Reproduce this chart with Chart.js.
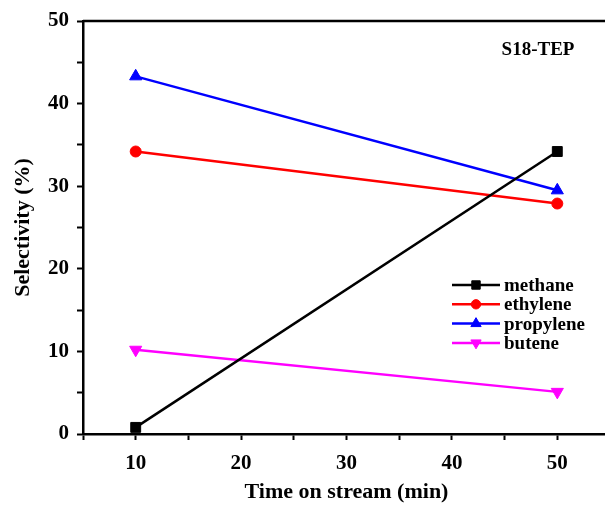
<!DOCTYPE html>
<html>
<head>
<meta charset="utf-8">
<script src="https://cdn.jsdelivr.net/npm/chart.js@4/dist/chart.umd.min.js"></script>
<style>
  html, body { margin: 0; padding: 0; overflow: hidden; background: #fff; }
  #wrap { position: relative; width: 605px; height: 506px; overflow: hidden; }
  #wrap canvas { position: absolute; left: 0; top: 0; }
</style>
</head>
<body>
<div id="wrap"><canvas id="c" width="621" height="506"></canvas></div>
<script>
// Selectivity vs time on stream, sample S18-TEP
const times = [10, 50];
const methane = [0.8, 34.2];
const ethylene = [34.2, 27.9];
const propylene = [43.3, 29.5];
const butene = [10.2, 5.1];
const seriesNames = ["methane", "ethylene", "propylene", "butene"];
const xTicks = [10, 20, 30, 40, 50];
const yTicks = [0, 10, 20, 30, 40, 50];

const FONT = "'Liberation Serif', 'Times New Roman', serif";

function pts(vals) {
  return times.map((t, i) => ({ x: t, y: vals[i] }));
}

function ds(label, vals, color, style, radius, rotation) {
  return {
    label,
    data: pts(vals),
    borderColor: color,
    backgroundColor: color,
    borderWidth: 2.5,
    pointStyle: style,
    pointRadius: radius,
    pointRotation: rotation || 0,
    pointBorderWidth: 1,
    pointBackgroundColor: color,
    pointBorderColor: color,
    tension: 0,
  };
}

// Marco superior/derecho, rotulo de muestra y leyenda con linea + marcador
const framePlugin = {
  id: "frame",
  afterDraw(chart) {
    const { ctx, chartArea: a } = chart;
    ctx.save();
    ctx.strokeStyle = "#000";
    ctx.lineWidth = 2.5;
    ctx.beginPath();
    ctx.moveTo(a.left, a.top);
    ctx.lineTo(a.right, a.top);
    ctx.lineTo(a.right, a.bottom);
    ctx.stroke();

    ctx.fillStyle = "#000";
    ctx.font = "bold 19px " + FONT;
    ctx.textAlign = "center";
    ctx.textBaseline = "middle";
    ctx.fillText("S18-TEP", 538, 50);

    // Leyenda
    ctx.font = "bold 19px " + FONT;
    ctx.textAlign = "left";
    chart.data.datasets.forEach((d, i) => {
      const y = 285 + i * 19.3;
      ctx.strokeStyle = d.borderColor;
      ctx.lineWidth = 2.5;
      ctx.beginPath();
      ctx.moveTo(452, y);
      ctx.lineTo(500, y);
      ctx.stroke();
      ctx.fillStyle = d.borderColor;
      ctx.strokeStyle = d.borderColor;
      ctx.lineWidth = 1;
      Chart.helpers.drawPoint(ctx, {
        pointStyle: d.pointStyle,
        radius: d.pointRadius * 0.85,
        rotation: d.pointRotation,
        borderWidth: 1,
      }, 476, y);
      ctx.fillStyle = "#000";
      ctx.fillText(seriesNames[i], 504, y + 1);
    });
    ctx.restore();
  },
};

new Chart(document.getElementById("c"), {
  type: "line",
  data: {
    datasets: [
      ds("methane", methane, "#000000", "rect", 7),
      ds("ethylene", ethylene, "#ff0000", "circle", 5.5),
      ds("propylene", propylene, "#0000ff", "triangle", 7),
      ds("butene", butene, "#ff00ff", "triangle", 7, 180),
    ],
  },
  options: {
    responsive: false,
    animation: false,
    // el eje derecho queda fuera del encuadre, como en la figura original
    layout: { padding: { top: 21, right: 0, left: 0, bottom: 0 } },
    plugins: { legend: { display: false }, tooltip: { enabled: false } },
    scales: {
      x: {
        type: "linear",
        min: 5,
        max: 55,
        afterFit: (s) => { s.height = 72; },
        border: { display: true, color: "#000", width: 2.5 },
        grid: { drawOnChartArea: false, drawTicks: true, tickLength: 6, tickColor: "#000", tickWidth: 2 },
        ticks: {
          stepSize: 5,
          color: "#000",
          padding: 11,
          maxRotation: 0,
          font: { family: FONT, size: 21, weight: "bold" },
          callback: (v) => (xTicks.includes(v) ? String(v) : ""),
        },
        title: {
          display: true,
          text: "Time on stream (min)",
          color: "#000",
          padding: { top: 0, bottom: 0 },
          font: { family: FONT, size: 22, weight: "bold" },
        },
      },
      y: {
        min: 0,
        max: 50,
        afterFit: (s) => { s.width = 83; },
        border: { display: true, color: "#000", width: 2.5 },
        grid: { drawOnChartArea: false, drawTicks: true, tickLength: 6, tickColor: "#000", tickWidth: 2 },
        ticks: {
          stepSize: 5,
          color: "#000",
          padding: 8,
          font: { family: FONT, size: 21, weight: "bold" },
          callback: (v) => (yTicks.includes(v) ? String(v) : ""),
        },
        title: {
          display: true,
          text: "Selectivity (%)",
          color: "#000",
          padding: { top: 10, bottom: 0 },
          font: { family: FONT, size: 22, weight: "bold" },
        },
      },
    },
  },
  plugins: [framePlugin],
});
</script>
</body>
</html>
